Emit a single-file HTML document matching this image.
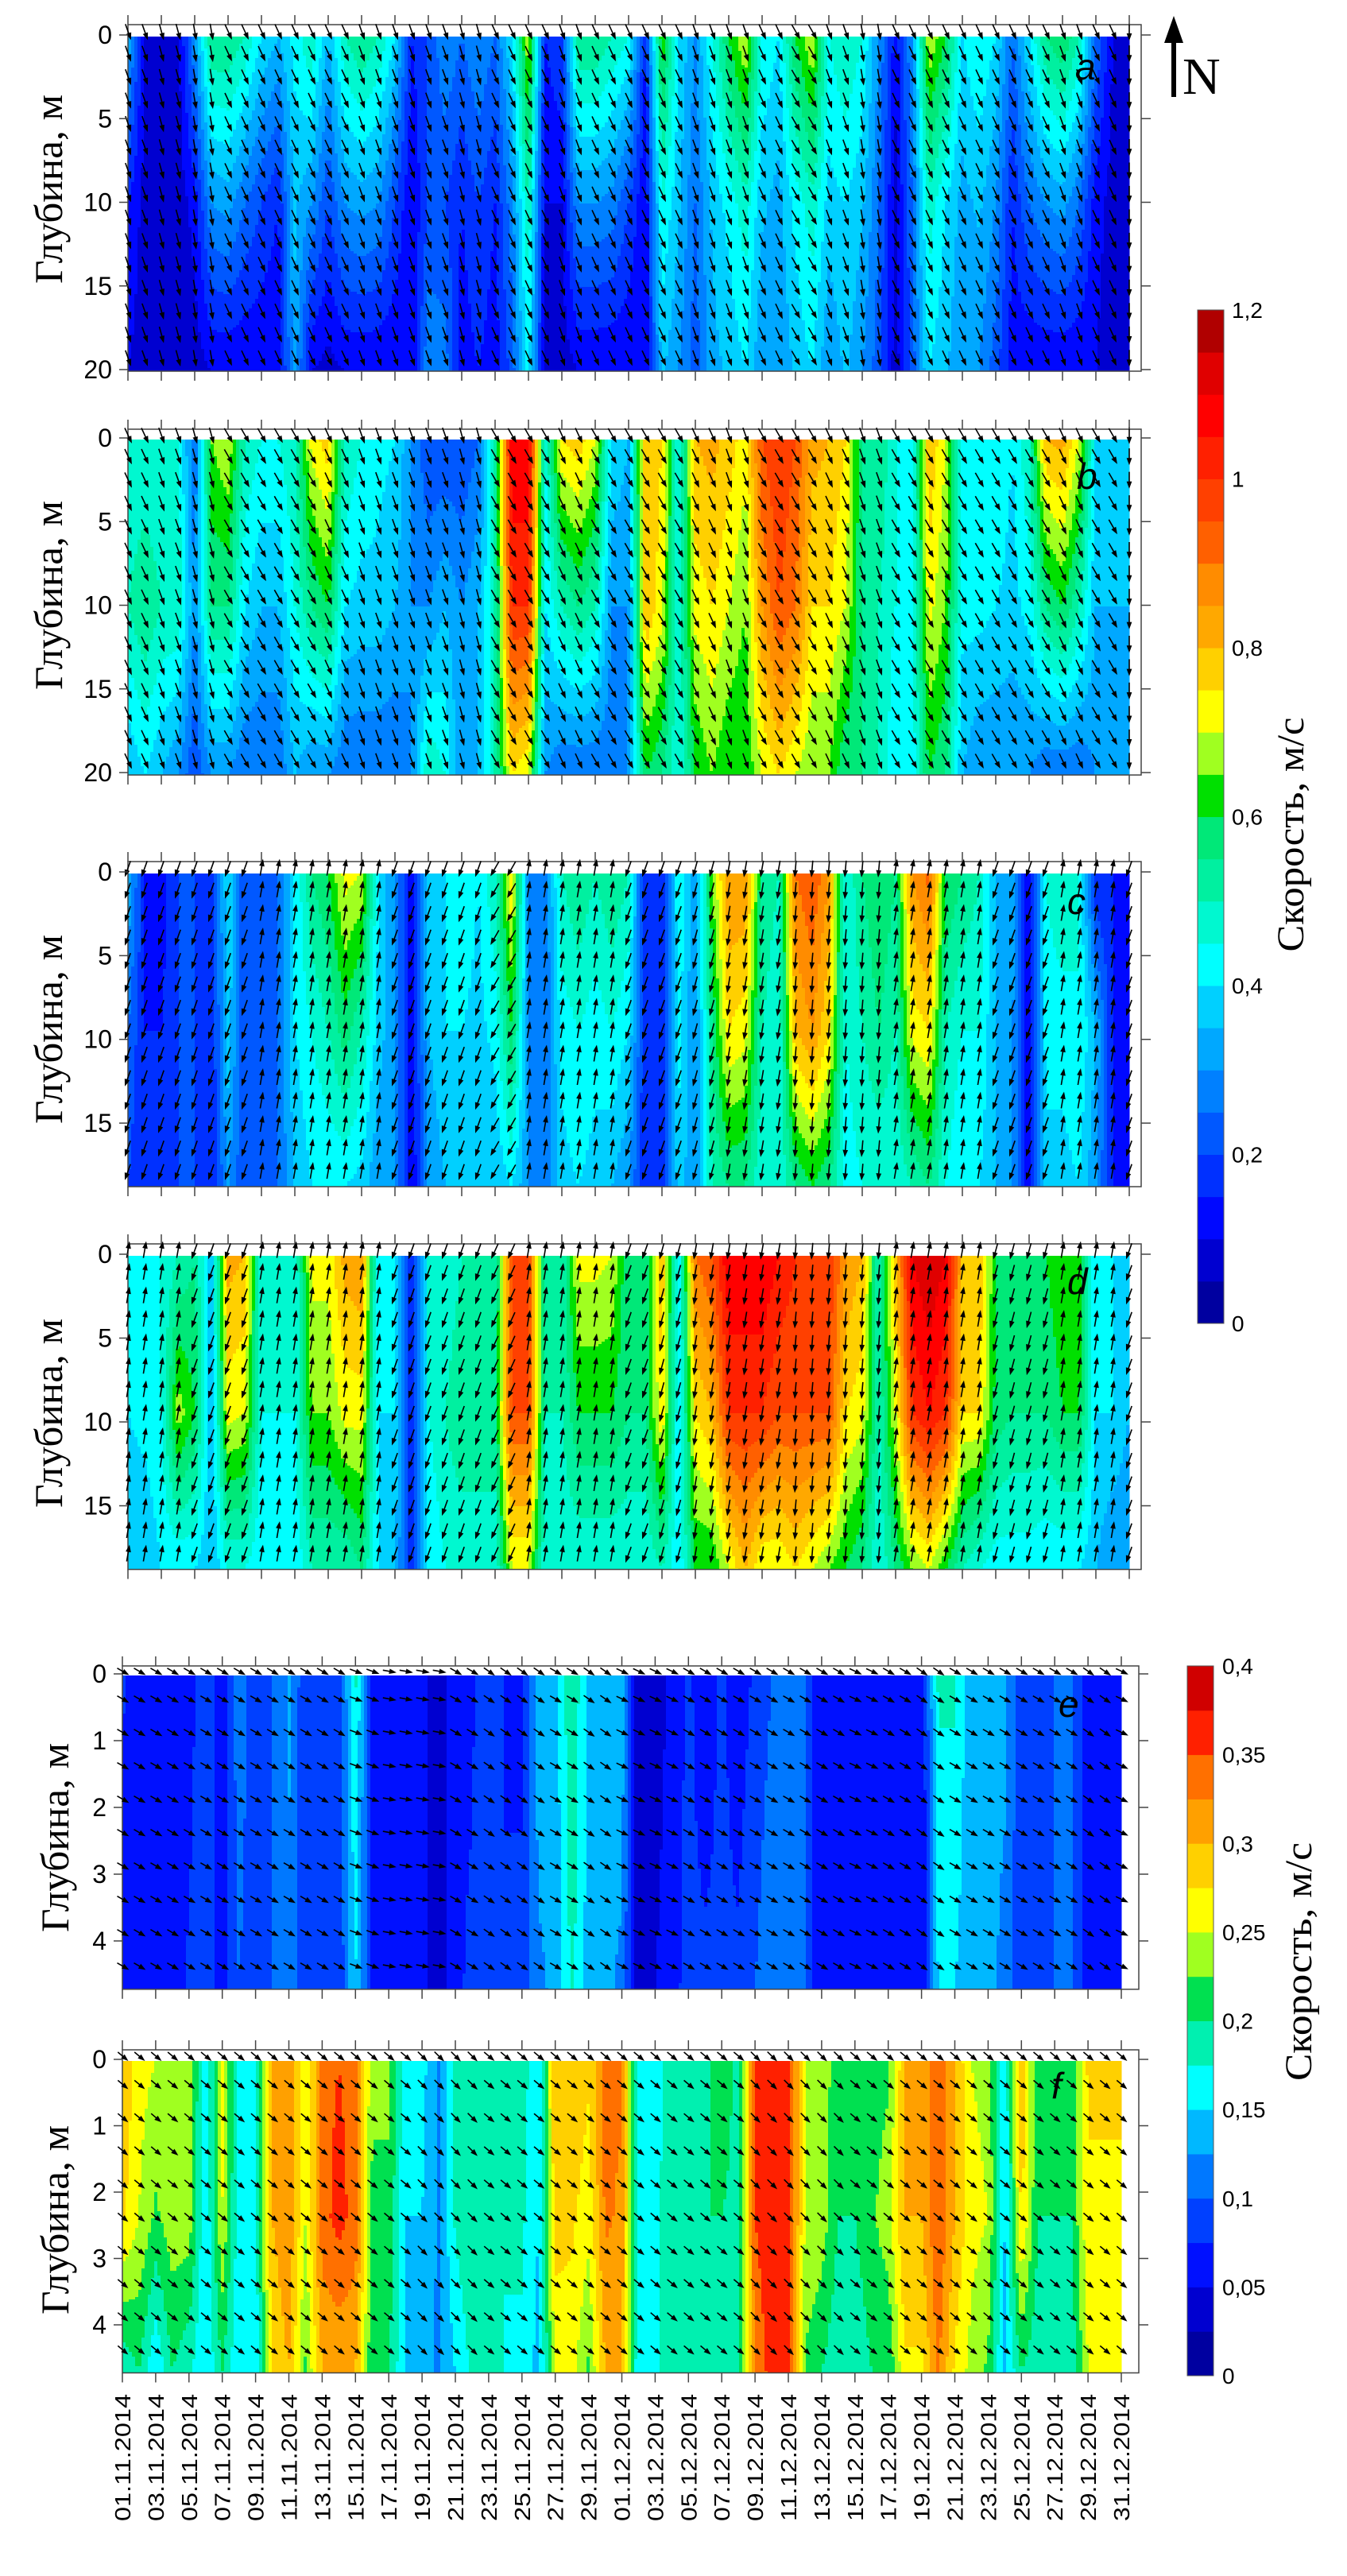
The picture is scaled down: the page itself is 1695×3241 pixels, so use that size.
<!DOCTYPE html>
<html><head><meta charset="utf-8">
<style>
html,body{margin:0;padding:0;background:#fff;}
svg{display:block;}
text{font-family:"Liberation Sans",sans-serif;fill:#000;}
.ser{font-family:"Liberation Serif",serif;}
</style></head>
<body>
<svg id="chart" width="1695" height="3241" viewBox="0 0 1695 3241" xmlns="http://www.w3.org/2000/svg">
<g id="north">
<line x1="1477" y1="44" x2="1477" y2="122" stroke="#000" stroke-width="6"/>
<polygon points="1465,54 1489,54 1477,20" fill="#000"/>
<text class="ser" x="1488" y="118" font-size="66">N</text>
</g>
</svg>
<script>
// ---- data: speed (m/s) per day (01.11 .. 31.12), top / mid / bottom depth ----
const days = Array.from({length:61},(_,i)=>i);
const dateLabels = ["01.11.2014","03.11.2014","05.11.2014","07.11.2014","09.11.2014","11.11.2014","13.11.2014","15.11.2014","17.11.2014","19.11.2014","21.11.2014","23.11.2014","25.11.2014","27.11.2014","29.11.2014","01.12.2014","03.12.2014","05.12.2014","07.12.2014","09.12.2014","11.12.2014","13.12.2014","15.12.2014","17.12.2014","19.12.2014","21.12.2014","23.12.2014","25.12.2014","27.12.2014","29.12.2014","31.12.2014"];

const aTop=[0.35,0.1,0.08,0.08,0.3,0.55,0.55,0.5,0.4,0.35,0.42,0.5,0.35,0.5,0.55,0.5,0.4,0.15,0.2,0.3,0.25,0.3,0.25,0.4,0.7,0.15,0.2,0.55,0.55,0.5,0.45,0.15,0.65,0.4,0.3,0.45,0.6,0.7,0.45,0.4,0.6,0.7,0.45,0.5,0.45,0.3,0.12,0.3,0.7,0.6,0.4,0.45,0.4,0.25,0.4,0.55,0.6,0.5,0.25,0.1,0.1];
const aMid=[0.15,0.08,0.07,0.07,0.12,0.3,0.32,0.25,0.2,0.15,0.36,0.3,0.2,0.3,0.32,0.3,0.2,0.1,0.2,0.2,0.15,0.2,0.15,0.28,0.5,0.1,0.1,0.3,0.3,0.28,0.2,0.1,0.45,0.36,0.25,0.36,0.42,0.48,0.36,0.33,0.42,0.48,0.38,0.4,0.36,0.25,0.08,0.25,0.48,0.4,0.33,0.36,0.3,0.15,0.25,0.3,0.32,0.25,0.12,0.08,0.08];
const aBot=[0.1,0.07,0.05,0.05,0.07,0.1,0.1,0.1,0.1,0.1,0.33,0.1,0.08,0.1,0.1,0.1,0.1,0.1,0.3,0.28,0.12,0.15,0.12,0.22,0.42,0.07,0.07,0.1,0.1,0.1,0.1,0.1,0.36,0.3,0.22,0.33,0.36,0.4,0.3,0.3,0.36,0.4,0.3,0.36,0.3,0.22,0.07,0.22,0.4,0.36,0.3,0.3,0.22,0.12,0.1,0.1,0.1,0.1,0.1,0.07,0.07];

const bTop=[0.45,0.45,0.45,0.45,0.25,0.65,0.7,0.5,0.45,0.45,0.5,0.72,0.78,0.5,0.45,0.42,0.4,0.3,0.2,0.2,0.2,0.25,0.5,1.1,1.1,0.45,0.75,0.78,0.7,0.4,0.35,0.8,0.75,0.45,0.8,0.82,0.78,0.72,0.95,1.0,0.95,0.82,0.8,0.75,0.55,0.55,0.45,0.45,0.8,0.7,0.45,0.45,0.45,0.4,0.5,0.8,0.82,0.7,0.4,0.4,0.4];
const bMid=[0.5,0.55,0.5,0.5,0.3,0.55,0.55,0.4,0.35,0.35,0.45,0.55,0.6,0.4,0.38,0.38,0.35,0.3,0.3,0.35,0.3,0.35,0.5,1.0,1.0,0.4,0.5,0.55,0.5,0.3,0.3,0.8,0.72,0.45,0.72,0.75,0.7,0.65,0.85,0.95,0.9,0.75,0.75,0.7,0.55,0.5,0.45,0.42,0.72,0.65,0.42,0.42,0.4,0.38,0.42,0.55,0.6,0.5,0.35,0.35,0.35];
const bBot=[0.35,0.4,0.35,0.3,0.2,0.3,0.3,0.25,0.25,0.25,0.35,0.3,0.3,0.25,0.25,0.25,0.25,0.3,0.5,0.45,0.3,0.35,0.5,0.75,0.7,0.3,0.25,0.25,0.25,0.25,0.3,0.6,0.55,0.45,0.6,0.65,0.6,0.6,0.7,0.75,0.7,0.65,0.65,0.55,0.55,0.5,0.4,0.42,0.6,0.55,0.35,0.3,0.3,0.3,0.3,0.25,0.25,0.25,0.3,0.3,0.3];

const cTop=[0.35,0.15,0.12,0.2,0.2,0.15,0.4,0.2,0.2,0.25,0.4,0.55,0.6,0.72,0.7,0.4,0.3,0.1,0.35,0.4,0.45,0.4,0.5,0.75,0.3,0.25,0.5,0.55,0.5,0.55,0.5,0.15,0.15,0.45,0.3,0.65,0.85,0.85,0.55,0.5,0.9,0.95,0.85,0.45,0.55,0.6,0.55,0.85,0.92,0.6,0.55,0.5,0.35,0.35,0.1,0.45,0.5,0.45,0.15,0.15,0.12];
const cMid=[0.25,0.15,0.15,0.2,0.2,0.15,0.38,0.2,0.2,0.25,0.4,0.45,0.5,0.58,0.5,0.38,0.3,0.1,0.35,0.4,0.4,0.38,0.42,0.6,0.3,0.25,0.42,0.45,0.42,0.45,0.4,0.15,0.15,0.42,0.3,0.55,0.75,0.72,0.5,0.45,0.8,0.85,0.75,0.45,0.5,0.55,0.5,0.72,0.75,0.5,0.45,0.45,0.35,0.3,0.1,0.42,0.42,0.45,0.35,0.15,0.12];
const cBot=[0.2,0.15,0.15,0.2,0.2,0.15,0.3,0.2,0.2,0.25,0.35,0.4,0.4,0.4,0.38,0.3,0.3,0.1,0.3,0.35,0.35,0.35,0.35,0.4,0.3,0.25,0.38,0.4,0.38,0.35,0.3,0.15,0.15,0.38,0.3,0.5,0.55,0.55,0.45,0.45,0.55,0.6,0.55,0.42,0.45,0.45,0.45,0.5,0.55,0.45,0.4,0.4,0.35,0.3,0.1,0.38,0.38,0.4,0.3,0.15,0.12];

const dTop=[0.4,0.42,0.45,0.5,0.55,0.35,0.82,0.8,0.45,0.45,0.45,0.72,0.72,0.82,0.85,0.4,0.4,0.15,0.45,0.45,0.5,0.5,0.5,0.95,0.95,0.5,0.5,0.72,0.72,0.7,0.55,0.55,0.8,0.4,0.9,0.95,1.1,1.1,1.1,1.05,1.0,1.0,1.0,0.85,0.8,0.5,0.8,1.1,1.15,1.1,0.8,0.8,0.6,0.6,0.6,0.6,0.65,0.65,0.4,0.4,0.35];
const dMid=[0.4,0.42,0.45,0.68,0.6,0.35,0.72,0.7,0.45,0.45,0.45,0.65,0.65,0.72,0.72,0.4,0.4,0.15,0.45,0.5,0.55,0.55,0.55,0.95,0.95,0.5,0.5,0.6,0.6,0.6,0.55,0.55,0.75,0.4,0.75,0.8,1.0,1.0,1.0,0.95,0.95,0.95,0.95,0.75,0.72,0.5,0.7,1.0,1.05,1.0,0.75,0.75,0.58,0.55,0.55,0.55,0.6,0.6,0.4,0.4,0.35];
const dBot=[0.35,0.35,0.4,0.4,0.4,0.35,0.45,0.45,0.4,0.4,0.4,0.5,0.5,0.5,0.55,0.4,0.35,0.15,0.4,0.45,0.45,0.45,0.45,0.7,0.7,0.45,0.45,0.45,0.45,0.45,0.45,0.45,0.5,0.4,0.6,0.6,0.7,0.8,0.7,0.7,0.75,0.7,0.65,0.6,0.55,0.45,0.55,0.65,0.7,0.6,0.5,0.45,0.42,0.42,0.42,0.4,0.4,0.4,0.35,0.3,0.3];

const eTop=[0.08,0.05,0.05,0.05,0.06,0.1,0.05,0.12,0.08,0.1,0.13,0.08,0.08,0.08,0.18,0.06,0.06,0.06,0.06,0.03,0.07,0.07,0.1,0.07,0.07,0.14,0.14,0.2,0.14,0.14,0.14,0.03,0.03,0.06,0.08,0.06,0.08,0.06,0.08,0.1,0.12,0.1,0.05,0.05,0.05,0.05,0.05,0.05,0.05,0.18,0.18,0.13,0.13,0.13,0.08,0.08,0.1,0.1,0.06,0.06,0.06];
const eBot=[0.06,0.05,0.05,0.06,0.08,0.1,0.06,0.1,0.08,0.1,0.12,0.08,0.08,0.08,0.15,0.07,0.07,0.06,0.06,0.03,0.07,0.08,0.1,0.08,0.08,0.12,0.13,0.18,0.14,0.13,0.12,0.03,0.05,0.07,0.08,0.08,0.08,0.08,0.1,0.12,0.12,0.1,0.05,0.05,0.06,0.06,0.05,0.05,0.05,0.15,0.15,0.13,0.13,0.12,0.08,0.08,0.1,0.1,0.06,0.06,0.06];

const fTop=[0.3,0.26,0.25,0.25,0.25,0.15,0.26,0.17,0.17,0.3,0.32,0.25,0.34,0.35,0.34,0.23,0.23,0.16,0.16,0.12,0.18,0.19,0.2,0.18,0.19,0.15,0.3,0.3,0.28,0.33,0.33,0.15,0.16,0.19,0.19,0.19,0.22,0.19,0.35,0.36,0.37,0.25,0.25,0.2,0.2,0.21,0.22,0.3,0.3,0.35,0.3,0.25,0.24,0.15,0.3,0.2,0.2,0.2,0.28,0.28,0.28];
const fMid=[0.28,0.25,0.22,0.24,0.24,0.15,0.25,0.16,0.17,0.3,0.32,0.25,0.34,0.36,0.34,0.22,0.22,0.15,0.15,0.12,0.18,0.2,0.2,0.18,0.18,0.15,0.29,0.28,0.26,0.33,0.32,0.15,0.17,0.19,0.2,0.2,0.2,0.19,0.35,0.37,0.37,0.25,0.24,0.2,0.2,0.22,0.24,0.3,0.3,0.35,0.3,0.26,0.25,0.15,0.28,0.2,0.2,0.2,0.27,0.27,0.27];
const fBot=[0.18,0.2,0.15,0.2,0.18,0.15,0.2,0.15,0.15,0.28,0.3,0.22,0.3,0.3,0.3,0.2,0.2,0.15,0.14,0.12,0.15,0.18,0.2,0.17,0.17,0.14,0.25,0.26,0.22,0.3,0.3,0.15,0.17,0.19,0.19,0.19,0.2,0.18,0.33,0.36,0.35,0.22,0.2,0.18,0.18,0.2,0.2,0.27,0.27,0.33,0.27,0.24,0.22,0.14,0.2,0.18,0.18,0.18,0.25,0.25,0.25];

// arrow directions (deg clockwise from north), one per 2 days
const aDir=[160,165,170,155,155,155,155,160,160,160,165,155,155,160,155,155,155,160,160,155,150,160,170,155,155,155,155,155,160,155,180];
const bDir=[155,160,165,150,150,150,155,160,160,160,165,150,150,155,150,150,150,155,160,150,150,155,160,150,150,150,150,150,155,150,180];
const cDir=[200,200,200,200,10,10,10,10,200,200,200,210,10,10,10,200,200,195,190,190,185,185,185,10,10,10,200,200,10,10,200];
const dDir=[10,10,200,200,10,10,10,10,200,200,200,205,10,10,10,200,195,190,190,190,185,185,185,10,10,10,195,195,10,10,200];
const eDir=[120,120,120,120,120,120,120,110,100,100,120,125,125,120,125,115,115,120,120,120,120,120,115,120,125,120,120,120,120,125,115];
const fDir=[130,130,130,130,130,130,130,130,130,135,135,130,130,130,130,130,130,130,130,135,135,135,130,130,130,130,130,130,130,130,130];

const depthTicks1=[0,5,10,15,20];
const depthTicks2=[0,5,10,15];
const depthTicks3=[0,1,2,3,4];
const scale1Ticks=["0","0,2","0,4","0,6","0,8","1","1,2"];
const scale2Ticks=["0","0,05","0,1","0,15","0,2","0,25","0,3","0,35","0,4"];

const pal1=['#0000a0','#0000d0','#0008ff','#0030ff','#0058ff','#0080ff','#00a8ff','#00d0ff','#00ffff','#00f8d0','#00f0a0','#00e878','#00e000','#a0ff20','#ffff00','#ffd000','#ffa800','#ff8c00','#ff6000','#ff4000','#ff2000','#ff0000','#e00000','#b00000'];
const pal2=['#0000a0','#0000d0','#0010ff','#0040ff','#0078ff','#00b8ff','#00ffff','#00f0b0','#00e050','#a0ff20','#ffff00','#ffd000','#ffa000','#ff7000','#ff2000','#d00000'];

const NS='http://www.w3.org/2000/svg';
const svg=document.getElementById('chart');
function mk(tag,attrs,parent){const e=document.createElementNS(NS,tag);for(const k in attrs)e.setAttribute(k,attrs[k]);(parent||svg).appendChild(e);return e;}

const panels=[
 {id:'a',top:aTop,mid:aMid,bot:aBot,dir:aDir,x0:161,x1:1421,fr:1436,ft:31,y0:46,sc:21.05,zmax:20.0,ticks:depthTicks1,vmax:1.2,pal:pal1,rowStep:1.4,colStep:1,alen:19,lx:1353,ly:100,tlx:62,tly:238},
 {id:'b',top:bTop,mid:bMid,bot:bBot,dir:bDir,x0:161,x1:1421,fr:1436,ft:540,y0:553,sc:21.05,zmax:20.05,ticks:depthTicks1,vmax:1.2,pal:pal1,rowStep:1.4,colStep:1,alen:19,lx:1355,ly:615,tlx:62,tly:749},
 {id:'c',top:cTop,mid:cMid,bot:cBot,dir:cDir,x0:161,x1:1421,fr:1436,ft:1084,y0:1099,sc:21.07,zmax:18.7,ticks:depthTicks2,vmax:1.2,pal:pal1,rowStep:1.4,colStep:1,alen:19,lx:1343,ly:1150,tlx:62,tly:1295},
 {id:'d',top:dTop,mid:dMid,bot:dBot,dir:dDir,x0:161,x1:1421,fr:1436,ft:1565,y0:1580,sc:21.1,zmax:18.7,ticks:depthTicks2,vmax:1.2,pal:pal1,rowStep:1.4,colStep:1,alen:19,lx:1343,ly:1628,tlx:62,tly:1778},
 {id:'e',top:eTop,mid:null,bot:eBot,dir:eDir,x0:154,x1:1411,fr:1433,ft:2096,y0:2108,sc:84,zmax:4.7,ticks:depthTicks3,vmax:0.4,pal:pal2,rowStep:0.5,colStep:1,alen:15,lx:1332,ly:2160,tlx:70,tly:2312},
 {id:'f',top:fTop,mid:fMid,bot:fBot,dir:fDir,x0:154,x1:1411,fr:1433,ft:2579,y0:2593,sc:83.5,zmax:4.7,ticks:depthTicks3,vmax:0.4,pal:pal2,rowStep:0.5,colStep:1,alen:15,lx:1323,ly:2640,tlx:70,tly:2793}
];

function valAt(p,d,z){
  const i=Math.min(59,Math.floor(d)),f=d-i;
  const L=(arr)=>arr[i]*(1-f)+arr[i+1]*f;
  const t=Math.min(1,z/p.zmax);
  const top=L(p.top),bot=L(p.bot);
  if(!p.mid) return top+(bot-top)*t;
  const mid=L(p.mid);
  return t<0.5? top+(mid-top)*t*2 : mid+(bot-mid)*(t-0.5)*2;
}

panels.forEach(p=>{
  const g=mk('g',{});
  
  
  const xs=(d)=>p.x0+(p.x1-p.x0)*d/60;
  const ys=(z)=>p.y0+z*p.sc;
  const yb=ys(p.zmax);
  const step=p.vmax/p.pal.length;
  const hm=mk('g',{'shape-rendering':'crispEdges'},g);
  
  
  const cw=4,rh=3;
  for(let x=p.x0;x<p.x1;x+=cw){
    const d=(x+cw/2-p.x0)/(p.x1-p.x0)*60;
    let runStart=p.y0,runC=null;
    for(let y=p.y0;y<=yb;y+=rh){
      const z=(y+rh/2-p.y0)/p.sc;
      const v=valAt(p,Math.max(0,Math.min(60,d)),z);
      const c=p.pal[Math.max(0,Math.min(p.pal.length-1,Math.floor(v/step+1e-6)))];
      if(c!==runC){
        if(runC){const r=mk('rect',{x:x,y:runStart,width:Math.min(cw,p.x1-x)+0.5,height:y-runStart+0.5,fill:runC},hm);}
        runC=c;runStart=y;
      }
    }
    const r=mk('rect',{x:x,y:runStart,width:Math.min(cw,p.x1-x)+0.5,height:yb-runStart,fill:runC},hm);
    
    
  }
  const fr=mk('rect',{x:p.x0,y:p.ft,width:p.fr-p.x0,height:yb-p.ft,fill:'none',stroke:'#444','stroke-width':1.5},g);
  
  
  const ag=mk('g',{stroke:'#000','stroke-width':1.6,fill:'#000'},g);
  
  
  const rows=[(p.ft-p.y0)/p.sc*0.45];
  for(let z=p.rowStep*0.7;z<p.zmax-0.15;z+=p.rowStep) rows.push(z);
  for(let d=0;d<=60.01;d+=p.colStep){
    const ang=p.dir[Math.min(30,Math.floor(d/2))]*Math.PI/180;
    rows.forEach(z=>{
      const cx=xs(d),cy=ys(z),L=p.alen;
      const dx=Math.sin(ang)*L/2,dy=-Math.cos(ang)*L/2;
      const hx=cx+dx,hy=cy+dy;
      const ux=dx/(L/2),uy=dy/(L/2);
      const px=-uy,py=ux;
      const path='M'+(cx-dx).toFixed(1)+' '+(cy-dy).toFixed(1)+'L'+hx.toFixed(1)+' '+hy.toFixed(1)+
        'M'+hx.toFixed(1)+' '+hy.toFixed(1)+'L'+(hx-ux*6+px*2.2).toFixed(1)+' '+(hy-uy*6+py*2.2).toFixed(1)+'L'+(hx-ux*6-px*2.2).toFixed(1)+' '+(hy-uy*6-py*2.2).toFixed(1)+'Z';
      const a=mk('path',{d:path},ag);
      
      
    });
  }
  for(let k=0;k<=30;k++){
    const x=xs(2*k);
    const t1=mk('line',{x1:x,y1:p.ft-12,x2:x,y2:p.ft,stroke:'#444','stroke-width':1.5},g);
    
    
    const t2=mk('line',{x1:x,y1:yb,x2:x,y2:yb+12,stroke:'#444','stroke-width':1.5},g);
    
    
  }
  p.ticks.forEach(z=>{
    const y=ys(z)-2;
    const l=mk('line',{x1:p.x0-11,y1:y,x2:p.x0,y2:y,stroke:'#444','stroke-width':1.5},g);
    
    
    const r=mk('line',{x1:p.fr,y1:y,x2:p.fr+12,y2:y,stroke:'#444','stroke-width':1.5},g);
    
    
    const t=mk('text',{x:p.x0-20,y:y+11,'font-size':32,'text-anchor':'end'},g);
    
    
    t.textContent=String(z);
  });
  const yt=mk('text',{class:'ser',x:0,y:0,'font-size':50,'text-anchor':'middle',textLength:238,lengthAdjust:'spacingAndGlyphs',transform:'translate('+(p.tlx+16)+','+p.tly+') rotate(-90)'},g);
  
  
  yt.textContent='Глубина, м';
  const pl=mk('text',{x:p.lx,y:p.ly,'font-size':46,'font-style':'italic'},g);
  
  
  pl.textContent=p.id;
});

const pf=panels[5];
dateLabels.forEach((lab,k)=>{
  const x=pf.x0+(pf.x1-pf.x0)*(2*k)/60;
  const t=mk('text',{x:0,y:0,'font-size':28,'text-anchor':'end',textLength:160,lengthAdjust:'spacingAndGlyphs',transform:'translate('+(x+10)+',3012) rotate(-90)'});
  
  
  t.textContent=lab;
});

function colorbar(name,x,yTop,yBot,pal,labels,labX,titleX,titleY,titleLen){
  const g=mk('g',{});
  
  
  const n=pal.length,h=(yBot-yTop)/n;
  pal.forEach((c,i)=>{
    const r=mk('rect',{x:x,y:yBot-(i+1)*h,width:33,height:h+0.5,fill:c},g);
    
    
  });
  const f=mk('rect',{x:x,y:yTop,width:33,height:yBot-yTop,fill:'none',stroke:'#555','stroke-width':1},g);
  
  
  const m=labels.length-1;
  labels.forEach((lab,i)=>{
    const y=yBot-(yBot-yTop)*i/m;
    const t=mk('text',{x:labX,y:y+10,'font-size':28},g);
    
    
    t.textContent=lab;
  });
  const tt=mk('text',{class:'ser',x:0,y:0,'font-size':48,'text-anchor':'middle',textLength:titleLen,lengthAdjust:'spacingAndGlyphs',transform:'translate('+titleX+','+titleY+') rotate(-90)'},g);
  
  
  tt.textContent='Скорость, м/с';
}
colorbar('colorbar-upper',1507,390,1665,pal1,scale1Ticks,1550,1640,1050,295);
colorbar('colorbar-lower',1494,2096,2989,pal2,scale2Ticks,1538,1650,2468,300);
</script>
</body></html>
